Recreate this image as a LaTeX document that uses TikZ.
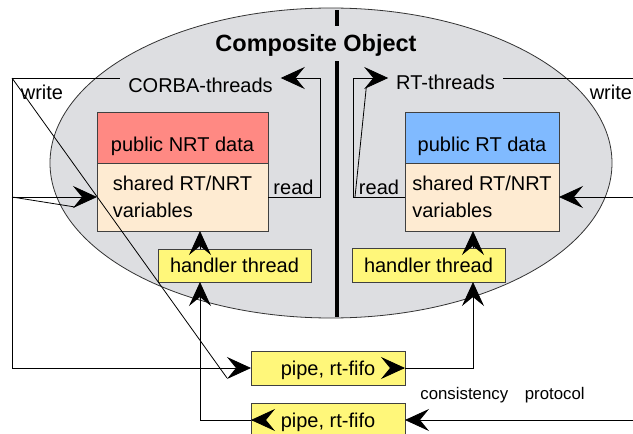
\documentclass[tikz,border=0pt]{standalone}
\usepackage{fontspec}
\setmainfont{Liberation Sans}
\usetikzlibrary{arrows.meta}
\definecolor{objgray}{HTML}{DDDEE1}
\definecolor{nrtred}{HTML}{FF8983}
\definecolor{rtblue}{HTML}{80BAFF}
\definecolor{sharedpeach}{HTML}{FEEBD2}
\definecolor{fifoyellow}{HTML}{FFF77A}

\begin{document}
\begin{tikzpicture}[x=1pt, y=-1pt,
    every node/.style={font=\fontsize{20}{27}\selectfont, outer sep=0pt},
    box/.style={draw=black!75, line width=0.9pt, inner sep=3pt},
    datbox/.style={box, minimum height=51pt, text height=27pt, text depth=0pt},
    sharedbox/.style={box, fill=sharedpeach, minimum height=68pt, align=left, text depth=0pt},
    yellowbox/.style={box, fill=fifoyellow, minimum width=153pt, minimum height=34pt, text depth=0pt},
    lbl/.style={inner sep=0pt},
    thr/.style={inner xsep=8pt, inner ysep=0pt},
    arr/.style={-{Stealth[length=24pt, width=22pt, inset=9pt]}},
    line width=0.8pt]
    \useasboundingbox (0,0) rectangle (633,434);

    % the object
    \draw[fill=objgray, draw=black!80] (331,163) ellipse [x radius=281, y radius=155];
    \node[font=\fontsize{23.5}{26}\selectfont\bfseries, inner sep=0pt] (title) at (316,45) {Composite Object};
    \draw[line width=4pt] (337,10) -- (337,26);
    \draw[line width=4pt] (337,61) -- (337,317);

    % data boxes
    \node[datbox, fill=nrtred, minimum width=171pt] (nrt) at (182.5,137.5) {public NRT data};
    \node[sharedbox, minimum width=171pt] (nrtshared) at (182.5,197) {shared RT/NRT\\variables};
    \node[datbox, fill=rtblue, minimum width=154pt] (rt) at (482,137.5) {public RT data};
    \node[sharedbox, minimum width=154pt] (rtshared) at (482,197) {shared RT/NRT\\variables};

    \node[yellowbox, minimum height=33pt] (hl) at (234.5,265.5) {handler thread};
    \node[yellowbox] (hr) at (428.5,265) {handler thread};
    \node[yellowbox, minimum width=154pt] (pipe1) at (328,368) {pipe, rt-fifo};
    \node[yellowbox, minimum width=154pt] (pipe2) at (328,420) {pipe, rt-fifo};

    % labels
    \node[thr] (corba) at (200.5,85) {CORBA-threads};
    \node[thr] (rtthr) at (445.5,82) {RT-threads};
    \node[lbl] (wrl) at (42,92) {write};
    \node[lbl, anchor=east] (wrr) at (632,92) {write};
    \node[lbl] (rdl) at (293.5,187) {read};
    \node[lbl] (rdr) at (379,187) {read};
    \node[lbl, font=\fontsize{16.8}{20}\selectfont] (proto) at (502.5,395.5) {consistency\hspace{12pt} protocol};

    \coordinate (wl) at (12,78);
    \coordinate (wr) at (633,78);
    \coordinate (cl) at (320,78);
    \coordinate (cr) at (353,78);
    \coordinate (xl) at (200,0);
    \coordinate (xr) at (473,0);

    % CORBA side
    \draw (wl) -- (corba.west |- wl);
    \draw[arr] (nrtshared.east) -| (cl) -- (corba.east |- cl);
    \draw[arr] (wl) |- (pipe1.west);
    \draw (wl) -- ([xshift=-24pt, yshift=-10pt]pipe1.west);
    \draw[arr] (wl |- nrtshared.west) -- (nrtshared.west);
    \draw (wl |- nrtshared.west) -- ([xshift=-22pt, yshift=-10pt]nrtshared.west);

    % RT side
    \draw[arr] (rtshared.west) -| (cr) -- (rtthr.west |- cr);
    \draw ([xshift=2pt]cr |- rtshared.west) -- ([xshift=-22pt, yshift=-10pt]rtthr.west |- cr);
    \draw (rtthr.east |- cr) -- (wr);
    \draw[arr] (wr |- rtshared.east) -- (rtshared.east);

    % handlers and fifos
    \draw[arr] (hl.north -| xl) -- (nrtshared.south -| xl);
    \draw[arr] (hr.north -| xr) -- (rtshared.south -| xr);
    \draw[arr] ([xshift=-1pt]pipe1.east) -- (pipe1.east);
    \draw[arr] (pipe1.east) -| (hr.south -| xr);
    \draw[arr] ([xshift=1pt]pipe2.west) -- (pipe2.west);
    \draw[arr] (pipe2.west) -| (hl.south -| xl);
    \draw[arr] (wr |- pipe2.east) -- (pipe2.east);
\end{tikzpicture}
\end{document}
